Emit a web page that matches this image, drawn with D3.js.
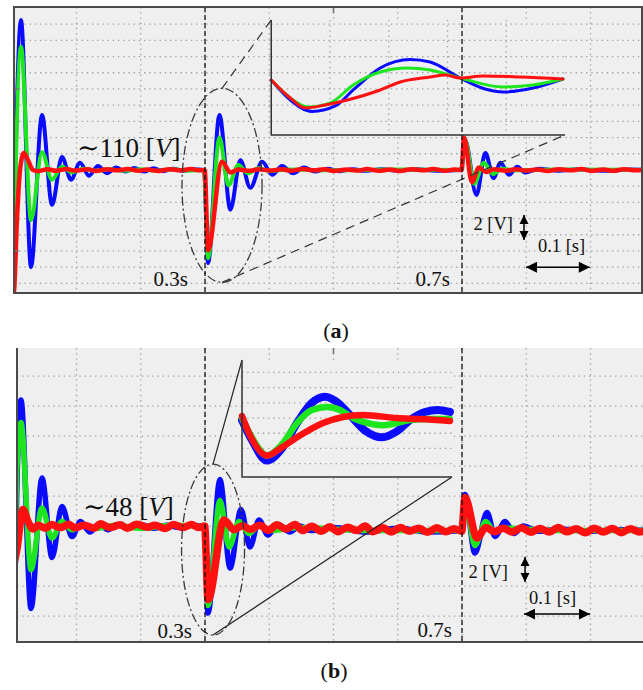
<!DOCTYPE html>
<html>
<head>
<meta charset="utf-8">
<script src="https://cdn.jsdelivr.net/npm/d3@7"></script>
<style>
body { margin: 0; background: #fff; }
svg { display: block; font-family: "Liberation Serif", "DejaVu Serif", serif; }
</style>
</head>
<body>
<div id="chart"></div>
<script>
// ---------- data (time in s, voltage in V) ----------
const gridTimes = [0.1, 0.2, 0.3, 0.4, 0.5, 0.6, 0.7, 0.8, 0.9];
const gridVoltsA = [96, 98, 100, 102, 104, 106, 108, 110, 112, 114, 116, 118, 120, 122, 124, 126, 128];
const gridVoltsB = [42, 44, 46, 48, 50, 52, 54, 56, 58];
const eventTimes = [0.3, 0.7];

const blueA = [[0.001,94],[0.0136,128.5],[0.0292,98],[0.0463,116.8],[0.0619,105.7],[0.0774,111.6],[0.0914,108.8],
  [0.1054,110.9],[0.1194,109.3],[0.1334,110.5],[0.1475,109.6],[0.1615,110.3],[0.176,109.8],[0.19,110.25],[0.205,109.8],
  [0.22,110.2],[0.235,109.85],[0.25,110.15],[0.265,109.9],[0.28,110.1],[0.2985,110],[0.3047,98.5],[0.3225,116.8],
  [0.3395,105.1],[0.3551,111.2],[0.3705,107.8],[0.389,111],[0.4047,109.4],[0.42,110.5],[0.437,109.6],[0.454,110.3],
  [0.471,109.8],[0.49,110.15],[0.51,109.85],[0.53,110.1],[0.55,109.9],[0.575,110.1],[0.6,109.9],[0.63,110.1],[0.66,109.9],
  [0.6985,110],[0.7047,113.7],[0.7225,106.9],[0.7364,112.1],[0.749,109],[0.76,110.9],[0.773,109.4],[0.786,110.4],
  [0.798,109.7],[0.82,110.15],[0.85,109.9],[0.88,110.1],[0.92,109.9],[0.96,110.05],[0.99,110]];
const greenA = [[0.001,94],[0.0136,125.2],[0.0292,103.8],[0.0463,112.2],[0.0619,108.8],[0.0774,110.4],[0.093,109.7],
  [0.11,110.15],[0.13,109.9],[0.15,110.1],[0.175,109.9],[0.2,110.1],[0.225,109.9],[0.25,110.1],[0.275,109.9],[0.2985,110],
  [0.3047,99.1],[0.3225,114],[0.3364,108.1],[0.3519,110.6],[0.367,109.6],[0.383,110.2],[0.4,109.9],[0.43,110.05],
  [0.5,109.95],[0.6,110.05],[0.6985,110],[0.7047,113.7],[0.719,108.3],[0.7342,110.9],[0.7482,109.5],[0.762,110.15],
  [0.78,109.95],[0.85,110.05],[0.99,110]];
const redA = [[0.001,94.5],[0.0027,95],[0.0074,104],[0.0121,110],[0.0183,112.1],[0.0245,111.2],[0.0323,110],[0.04,109.85],
  [0.055,110.1],[0.068,109.9],[0.085,110.12],[0.097,109.92],[0.118,110.08],[0.13,109.88],[0.148,110.1],[0.162,109.95],
  [0.18,110.12],[0.196,109.9],[0.21,110.05],[0.228,109.88],[0.245,110.1],[0.262,109.95],[0.278,110.12],[0.29,109.95],
  [0.2995,110],[0.3047,100.1],[0.3265,111],[0.3396,109.7],[0.352,110.05],[0.37,109.9],[0.384,110.1],[0.401,109.92],
  [0.42,110.08],[0.433,109.9],[0.452,110.12],[0.47,109.95],[0.486,110.1],[0.5,109.88],[0.521,110.06],[0.538,109.92],
  [0.552,110.12],[0.57,109.9],[0.588,110.05],[0.603,109.88],[0.622,110.1],[0.64,109.95],[0.655,110.12],[0.674,109.9],
  [0.688,110.05],[0.6995,110],[0.7031,114],[0.7155,108.5],[0.7264,110.3],[0.737,109.75],[0.75,110.08],[0.768,109.9],
  [0.784,110.1],[0.8,109.92],[0.818,110.06],[0.833,109.88],[0.851,110.1],[0.87,109.95],[0.886,110.12],[0.9,109.9],
  [0.92,110.05],[0.936,109.9],[0.952,110.1],[0.97,109.95],[0.99,110.05]];

const blueB = [[0.0043,45],[0.0074,51],[0.0136,56.4],[0.0292,42.5],[0.0463,51.2],[0.0619,45.9],[0.0774,49.3],[0.093,47.3],
  [0.1063,48.3],[0.121,47.6],[0.1354,48.15],[0.149,47.75],[0.163,48.1],[0.18,47.85],[0.2,48.1],[0.22,47.85],[0.24,48.05],
  [0.26,47.9],[0.28,48.05],[0.2995,47.9],[0.3047,42.2],[0.3233,51.1],[0.339,45.2],[0.356,49.1],[0.37,46.6],[0.384,48.4],
  [0.398,47.4],[0.413,48.1],[0.432,47.6],[0.448,48],[0.465,47.7],[0.5,47.9],[0.55,47.6],[0.6,47.85],[0.65,47.6],
  [0.6995,47.7],[0.7047,50.1],[0.72,46.2],[0.739,48.9],[0.7514,47.3],[0.767,48.3],[0.781,47.5],[0.795,48],[0.82,47.65],
  [0.85,47.8],[0.9,47.65],[0.95,47.75],[0.99,47.7]];
const greenB = [[0.0043,46],[0.0074,52],[0.0136,54.9],[0.0292,45.1],[0.0463,49.2],[0.0619,47.2],[0.0774,48.3],[0.093,47.75],
  [0.11,48.1],[0.13,47.85],[0.16,48.05],[0.2,47.85],[0.25,48.05],[0.2995,47.95],[0.3047,42.7],[0.3233,49.7],[0.3375,46.6],
  [0.353,48.3],[0.368,47.5],[0.384,48],[0.4,47.7],[0.45,47.9],[0.55,47.7],[0.6995,47.7],[0.7047,49.9],[0.72,46.7],
  [0.737,48.3],[0.7514,47.6],[0.767,47.85],[0.85,47.7],[0.99,47.7]];
const redB = [[0.003,45.5],[0.0074,46.5],[0.0167,49.1],[0.0245,48.3],[0.0323,47.8],[0.04,48.05],[0.052,47.85],[0.061,48.1],
  [0.075,47.9],[0.088,48.12],[0.097,47.88],[0.112,48.05],[0.128,47.85],[0.137,48.15],[0.152,47.9],[0.168,48.08],
  [0.179,47.86],[0.194,48.12],[0.21,47.92],[0.222,48.06],[0.238,47.84],[0.251,48.1],[0.266,47.9],[0.279,48.1],[0.29,47.9],
  [0.2995,48],[0.3047,43.1],[0.3296,48.4],[0.345,47.75],[0.358,48.02],[0.371,47.78],[0.385,48.05],[0.399,47.72],
  [0.412,48.08],[0.426,47.8],[0.44,48.1],[0.452,47.7],[0.466,47.98],[0.481,47.65],[0.494,47.95],[0.507,47.62],
  [0.522,47.92],[0.536,47.7],[0.549,48],[0.561,47.62],[0.577,47.88],[0.59,47.6],[0.604,47.9],[0.618,47.66],[0.633,47.86],
  [0.646,47.58],[0.661,47.88],[0.675,47.62],[0.688,47.82],[0.6995,47.65],[0.7047,49.9],[0.7233,47.2],[0.737,47.9],
  [0.751,47.62],[0.764,47.85],[0.778,47.6],[0.793,47.88],[0.807,47.58],[0.821,47.84],[0.836,47.6],[0.85,47.9],
  [0.863,47.62],[0.878,47.82],[0.892,47.55],[0.906,47.86],[0.92,47.6],[0.934,47.84],[0.948,47.56],[0.962,47.82],
  [0.976,47.6],[0.99,47.75]];

// zoomed views (x: 0..100 % of window, y: deviation units)
const zoomBlueA = [[0,0],[6.5,-2],[13.9,-3.15],[21.8,-2.6],[27.9,-1],[37.1,1.2],[47.3,2.05],[54.1,1.8],[64.3,0.2],
  [72.8,-0.9],[78.9,-1.2],[89.1,-0.8],[99.3,0.1]];
const zoomGreenA = [[0,0],[6.5,-1.8],[12.6,-2.7],[20.1,-2.3],[27.9,-0.5],[37.1,0.8],[46.3,1.2],[54.1,1],[64.3,0.2],
  [78.9,-0.7],[89.1,-0.5],[99.3,0.1]];
const zoomRedA = [[0,0],[6.5,-1.8],[11.6,-2.8],[18.4,-2.5],[25.9,-2],[37.1,-1],[43.9,-0.2],[54.1,0.3],[59.2,0.5],
  [64.3,0.2],[72.1,0.4],[84.7,0.3],[99.3,0.1]];
const zoomBlueB = [[0,-0.13],[4.8,-1.47],[11.9,-2.8],[19,-2],[26.2,-0.33],[33.3,1],[39.5,1.4],[45.7,1],[51.4,0.2],
  [59,-0.87],[66.7,-1.27],[73.8,-0.87],[80,-0.13],[87.1,0.4],[93.3,0.53],[99,0.4]];
const zoomGreenB = [[0,0],[4.8,-1.3],[11.9,-2.47],[19,-1.73],[26.2,-0.33],[33.3,0.53],[40.5,0.73],[46.7,0.53],[52.9,0],
  [60,-0.33],[67.1,-0.47],[73.8,-0.33],[80,-0.13],[89.5,-0.07],[99,-0.07]];
const zoomRedB = [[0,0.13],[3.8,-1.13],[11.9,-2.47],[19,-1.93],[26.2,-1.27],[38.6,-0.33],[48.1,0.07],[57.6,0.2],
  [73.8,0],[84.8,-0.07],[99,-0.2]];
const zoomGridXA = [20, 40, 60, 80];
const zoomGridYB = [-3, -2, -1, 0, 1, 2, 3];

// annotations (time, voltage)
const levelLabels = [{t: 0.1008, v: 111.6, num: "110"}, {t: 0.1101, v: 48.67, num: "48"}];
const eventLabelsA = [{t: 0.2735, v: 95.68, text: "0.3s"}, {t: 0.6813, v: 95.68, text: "0.7s"}];
const eventLabelsB = [{t: 0.2798, v: 40.53, text: "0.3s"}, {t: 0.6844, v: 40.6, text: "0.7s"}];
const scaleMarksA = {vText: [0.7794, 102.6], vArrow: [0.7965, 104.44, 101.36], tText: [0.855, 99.9], tArrow: [0.7996, 0.8989, 98.0]};
const scaleMarksB = {vText: [0.7716, 44.53], vArrow: [0.7981, 45.93, 44.27], tText: [0.8409, 42.8], tArrow: [0.7965, 0.8992, 42.13]};
const ellipseA = {t: 0.3265, v: 108.1, rt: 0.0623, rv: 11.98};
const ellipseB = {t: 0.3125, v: 46.43, rt: 0.049, rv: 5.7};

// ---------- layout ----------
const width = 643, height = 690;
const blue = "#0a0aff", green = "#1ee61e", red = "#ff1010";

const x = d3.scaleLinear().domain([0, 1]).range([12.25, 654.75]);

const svg = d3.select("#chart").append("svg")
  .attr("width", width).attr("height", height)
  .attr("viewBox", [0, 0, width, height]);

const defs = svg.append("defs");
function marker(id, w, h) {
  defs.append("marker").attr("id", id)
    .attr("viewBox", "0 0 10 10").attr("refX", 10).attr("refY", 5)
    .attr("markerUnits", "userSpaceOnUse").attr("markerWidth", w).attr("markerHeight", h)
    .attr("orient", "auto-start-reverse")
    .append("path").attr("d", "M0,0L10,5L0,10z").attr("fill", "#000");
}
marker("headV", 9, 10);
marker("headH", 13, 11);

function dotted(sel) {
  return sel.attr("stroke", "#a3a3a3").attr("stroke-width", 1.3).attr("stroke-dasharray", "1.4,3.8");
}

function drawPanel(p) {
  const y = d3.scaleLinear().domain(p.vDomain).range([p.bottom, p.top]);
  const g = svg.append("g");
  const clipId = "clip-" + p.key;
  defs.append("clipPath").attr("id", clipId).append("rect")
    .attr("x", p.left).attr("y", p.top).attr("width", p.right - p.left).attr("height", p.bottom - p.top);

  g.append("rect").attr("x", p.left).attr("y", p.top)
    .attr("width", p.right - p.left).attr("height", p.bottom - p.top).attr("fill", "#efefef");

  // dotted grid
  dotted(g.append("g").selectAll("line").data(gridTimes).join("line")
    .attr("x1", d => x(d)).attr("x2", d => x(d)).attr("y1", p.top).attr("y2", p.bottom));
  dotted(g.append("g").selectAll("line").data(p.gridV).join("line")
    .attr("x1", p.left).attr("x2", p.right).attr("y1", d => y(d)).attr("y2", d => y(d)));

  // traces
  const line = d3.line().x(d => x(d[0])).y(d => y(d[1])).curve(d3.curveMonotoneX);
  const tr = g.append("g").attr("clip-path", `url(#${clipId})`).attr("fill", "none")
    .attr("stroke-linejoin", "round").attr("stroke-linecap", "round");
  tr.append("path").attr("d", line(p.blue)).attr("stroke", blue).attr("stroke-width", p.w[0]);
  tr.append("path").attr("d", line(p.green)).attr("stroke", green).attr("stroke-width", p.w[1]);
  tr.append("path").attr("d", line(p.red)).attr("stroke", red).attr("stroke-width", p.w[2]);

  // ellipse around the 0.3 s event
  const e = p.ellipse;
  g.append("ellipse")
    .attr("cx", x(e.t)).attr("cy", y(e.v))
    .attr("rx", x(e.t + e.rt) - x(e.t)).attr("ry", y(e.v) - y(e.v + e.rv))
    .attr("fill", "none").attr("stroke", "#3a3a3a").attr("stroke-width", 1.3)
    .attr("stroke-dasharray", "9,3,2,3");

  // zoom window
  const z = p.zoom;
  const zx0 = x(z.t0), zx1 = x(z.t1), zy0 = y(z.v0), zy1 = y(z.v1);
  const zx = d3.scaleLinear().domain([0, 100]).range([zx0, zx1]);
  const zy = d3.scaleLinear().domain(z.yDomain).range([zy0, zy1]);

  // connectors from ellipse to zoom window
  const conn = g.append("g").attr("stroke", p.connColor).attr("stroke-width", 1.2)
    .attr("stroke-dasharray", p.connDash);
  conn.append("line").attr("x1", x(e.t)).attr("y1", y(e.v + e.rv)).attr("x2", zx0).attr("y2", zy1);
  conn.append("line").attr("x1", x(e.t)).attr("y1", y(e.v - e.rv)).attr("x2", zx1).attr("y2", zy0);

  const zg = g.append("g");
  zg.append("rect").attr("x", zx0).attr("y", zy1).attr("width", zx1 - zx0).attr("height", zy0 - zy1)
    .attr("fill", "#efefef");
  if (z.gridX) dotted(zg.append("g").selectAll("line").data(z.gridX).join("line")
    .attr("x1", d => zx(d)).attr("x2", d => zx(d)).attr("y1", zy1).attr("y2", zy0));
  if (z.gridMainV) dotted(zg.append("g").selectAll("line").data(p.gridV.filter(d => y(d) > zy1 && y(d) < zy0)).join("line")
    .attr("x1", zx0).attr("x2", zx1).attr("y1", d => y(d)).attr("y2", d => y(d)));
  if (z.gridY) dotted(zg.append("g").selectAll("line").data(z.gridY).join("line")
    .attr("x1", zx0).attr("x2", zx1).attr("y1", d => zy(d)).attr("y2", d => zy(d)));
  const zline = d3.line().x(d => zx(d[0])).y(d => zy(d[1])).curve(d3.curveMonotoneX);
  const zt = zg.append("g").attr("fill", "none").attr("stroke-linecap", "round");
  zt.append("path").attr("d", zline(z.blue)).attr("stroke", blue).attr("stroke-width", z.w[0]);
  zt.append("path").attr("d", zline(z.green)).attr("stroke", green).attr("stroke-width", z.w[1]);
  zt.append("path").attr("d", zline(z.red)).attr("stroke", red).attr("stroke-width", z.w[2]);
  zg.append("path").attr("d", `M${zx0},${zy1}V${zy0}H${zx1}`)
    .attr("fill", "none").attr("stroke", "#333").attr("stroke-width", 1.5);

  // event markers
  g.append("g").selectAll("line").data(eventTimes).join("line")
    .attr("x1", d => x(d)).attr("x2", d => x(d)).attr("y1", p.top).attr("y2", p.bottom)
    .attr("stroke", "#111").attr("stroke-width", 1.3).attr("stroke-dasharray", "5,3");

  // labels
  const lv = p.level;
  const t1 = g.append("text").attr("x", x(lv.t)).attr("y", y(lv.v)).attr("font-size", 27).attr("fill", "#111");
  t1.append("tspan").text("∼" + lv.num + " [");
  t1.append("tspan").attr("font-style", "italic").text("V");
  t1.append("tspan").text("]");

  g.append("g").selectAll("text").data(p.events).join("text")
    .attr("x", d => x(d.t)).attr("y", d => y(d.v)).attr("text-anchor", "end")
    .attr("font-size", 21).attr("fill", "#111").text(d => d.text);

  const s = p.scaleMarks;
  g.append("text").attr("x", x(s.vText[0])).attr("y", y(s.vText[1])).attr("text-anchor", "end")
    .attr("font-size", 18.5).attr("fill", "#111").text("2 [V]");
  g.append("line").attr("x1", x(s.vArrow[0])).attr("x2", x(s.vArrow[0]))
    .attr("y1", y(s.vArrow[1])).attr("y2", y(s.vArrow[2]))
    .attr("stroke", "#000").attr("stroke-width", 1.5)
    .attr("marker-start", "url(#headV)").attr("marker-end", "url(#headV)");
  g.append("text").attr("x", x(s.tText[0])).attr("y", y(s.tText[1])).attr("text-anchor", "middle")
    .attr("font-size", 18.5).attr("fill", "#111").text("0.1 [s]");
  g.append("line").attr("x1", x(s.tArrow[0])).attr("x2", x(s.tArrow[1]))
    .attr("y1", y(s.tArrow[2])).attr("y2", y(s.tArrow[2]))
    .attr("stroke", "#000").attr("stroke-width", 1.5)
    .attr("marker-start", "url(#headH)").attr("marker-end", "url(#headH)");

  // small centre ticks and frame
  g.append("line").attr("x1", x(0.5)).attr("x2", x(0.5)).attr("y1", p.top).attr("y2", p.top + 6)
    .attr("stroke", "#777").attr("stroke-width", 1.6);
  g.append("g").selectAll("line").data(p.sideTicks).join("line")
    .attr("x1", p.left).attr("x2", p.left + 5).attr("y1", d => y(d)).attr("y2", d => y(d))
    .attr("stroke", "#777").attr("stroke-width", 1.4);
  g.append("path").attr("d", p.frame(p)).attr("fill", "none").attr("stroke", "#4a4a4a").attr("stroke-width", 2);
}

drawPanel({
  key: "a", left: 14, right: 642, top: 7, bottom: 293, vDomain: [94.81, 130.12],
  gridV: gridVoltsA, blue: blueA, green: greenA, red: redA, w: [4, 4, 4.5],
  ellipse: ellipseA, connColor: "#333", connDash: "9,6",
  zoom: {t0: 0.4031, t1: 0.8603, v0: 114.32, v1: 128.52, yDomain: [-5.5, 6], gridX: zoomGridXA, gridMainV: true,
         blue: zoomBlueA, green: zoomGreenA, red: zoomRedA, w: [3, 3, 3]},
  level: levelLabels[0], events: eventLabelsA, scaleMarks: scaleMarksA, sideTicks: [100, 120],
  frame: p => `M${p.left},${p.top}H${p.right}V${p.bottom}H${p.left}Z`
});

drawPanel({
  key: "b", left: 17, right: 643, top: 348, bottom: 642, vDomain: [40.27, 59.87],
  gridV: gridVoltsB, blue: blueB, green: greenB, red: redB, w: [5.5, 5.5, 7.5],
  ellipse: ellipseB, connColor: "#222", connDash: null,
  zoom: {t0: 0.3576, t1: 0.6844, v0: 51.27, v1: 59.07, yDomain: [-3.88, 3.82], gridY: zoomGridYB,
         blue: zoomBlueB, green: zoomGreenB, red: zoomRedB, w: [8, 6.5, 6.5]},
  level: levelLabels[1], events: eventLabelsB, scaleMarks: scaleMarksB, sideTicks: [],
  frame: p => `M${p.left},${p.top}V${p.bottom}H${p.right}`
});

// captions
function caption(cx, cy, letter) {
  const t = svg.append("text").attr("x", cx).attr("y", cy).attr("text-anchor", "middle")
    .attr("font-size", 22).attr("fill", "#111");
  t.append("tspan").text("(");
  t.append("tspan").attr("font-weight", "bold").text(letter);
  t.append("tspan").text(")");
}
caption(336, 338, "a");
caption(334, 678, "b");
</script>
</body>
</html>
